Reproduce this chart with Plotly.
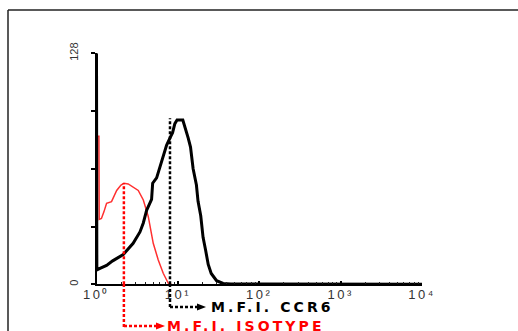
import plotly.graph_objects as go

W, H = 518, 331

# CCR6 histogram (black): fluorescence intensity vs. cell count
ccr6_x = [1.00, 1.01, 1.12, 1.33, 1.58, 2.13, 2.82, 3.42, 3.76, 4.13, 4.75, 4.90, 5.48, 6.01,
          6.61, 7.26, 7.98, 8.61, 9.18, 9.77, 11.5, 12.3, 13.4, 14.3, 15.4, 16.9, 17.7, 19.1,
          20.4, 21.9, 23.6, 25.7, 29.9, 36.0, 44.7, 100, 10000]
ccr6_y = [128, 8, 9, 10.5, 13, 16.5, 22.7, 29, 34, 41, 47, 56, 59, 65,
          70, 77, 81, 84, 89, 91, 91, 87, 81, 76, 64, 55, 46, 38,
          26, 19, 11, 6, 2, 0.5, 0.2, 0.1, 0]

# Isotype histogram (red)
iso_x = [1.00, 1.07, 1.08, 1.15, 1.23, 1.33, 1.53, 1.77, 2.00, 2.17, 2.45, 2.82, 3.26, 3.76,
         4.33, 4.98, 5.74, 6.61, 7.62, 8.32]
iso_y = [82, 82, 36, 36.5, 40, 44.9, 45.8, 52, 55, 56, 55.6, 54, 52, 46.7,
         37.5, 22.7, 13.5, 6.1, 0.6, 0]

mfi_ccr6 = 8.0
mfi_iso = 2.17
mfi_ccr6_height = 92
mfi_iso_height = 56

x_tickvals = [1, 10, 100, 1000, 10000]
x_ticktext = ["10⁰", "10¹", "10²", "10³", "10⁴"]
x_minorvals = [k * 10 ** d for d in range(4) for k in range(2, 10)]
y_tickvals = [0, 32, 64, 96, 128]
y_ticktext = ["0", "", "", "", "128"]
label_ccr6 = "M.F.I. CCR6"
label_iso = "M.F.I. ISOTYPE"


def PX(x):
    return x / W


def PY(y):
    return 1 - y / H


fig = go.Figure()
fig.add_trace(go.Scatter(x=iso_x, y=iso_y, mode="lines",
                         line=dict(color="#ff3030", width=1.5), hoverinfo="skip"))
fig.add_trace(go.Scatter(x=ccr6_x, y=ccr6_y, mode="lines",
                         line=dict(color="black", width=3), hoverinfo="skip"))

shapes = []
# frame
shapes.append(dict(type="line", xref="paper", yref="paper", x0=PX(8), x1=1.0, y0=PY(10), y1=PY(10),
                   line=dict(color="#222", width=1.5)))
shapes.append(dict(type="line", xref="paper", yref="paper", x0=PX(8), x1=PX(8), y0=PY(10), y1=0,
                   line=dict(color="#222", width=1.5)))

dot = "3px,2px"
# CCR6 marker
shapes.append(dict(type="line", xref="x", yref="y", x0=mfi_ccr6, x1=mfi_ccr6, y0=0, y1=mfi_ccr6_height,
                   line=dict(color="black", width=2.5, dash=dot)))
shapes.append(dict(type="line", xref="x", yref="paper", x0=mfi_ccr6, x1=mfi_ccr6, y0=PY(284), y1=PY(308),
                   line=dict(color="black", width=2.5, dash=dot)))
shapes.append(dict(type="line", xref="paper", yref="paper", x0=PX(170), x1=PX(198), y0=PY(307), y1=PY(307),
                   line=dict(color="black", width=2.5, dash=dot)))
shapes.append(dict(type="path", xref="paper", yref="paper",
                   path=f"M {PX(197)},{PY(303.5)} L {PX(206)},{PY(307)} L {PX(197)},{PY(310.5)} Z",
                   fillcolor="black", line=dict(width=0)))
# Isotype marker
shapes.append(dict(type="line", xref="x", yref="y", x0=mfi_iso, x1=mfi_iso, y0=0, y1=mfi_iso_height,
                   line=dict(color="#ff0000", width=2.5, dash=dot)))
shapes.append(dict(type="line", xref="x", yref="paper", x0=mfi_iso, x1=mfi_iso, y0=PY(284), y1=PY(327),
                   line=dict(color="#ff0000", width=2.5, dash=dot)))
shapes.append(dict(type="line", xref="paper", yref="paper", x0=PX(124), x1=PX(157), y0=PY(326), y1=PY(326),
                   line=dict(color="#ff0000", width=2.5, dash=dot)))
shapes.append(dict(type="path", xref="paper", yref="paper",
                   path=f"M {PX(156)},{PY(322.5)} L {PX(165)},{PY(326)} L {PX(156)},{PY(329.5)} Z",
                   fillcolor="#ff0000", line=dict(width=0)))

annotations = [
    dict(xref="paper", yref="paper", x=PX(209), y=PY(307), xanchor="left", yanchor="middle",
         text=f"<span style='letter-spacing:3.1px'>{label_ccr6}</span>", showarrow=False,
         font=dict(family="DejaVu Sans", size=14, color="black", weight="bold")),
    dict(xref="paper", yref="paper", x=PX(165), y=PY(326), xanchor="left", yanchor="middle",
         text=f"<span style='letter-spacing:3.1px'>{label_iso}</span>", showarrow=False,
         font=dict(family="DejaVu Sans", size=14, color="#ff0000", weight="bold")),
]

fig.update_layout(
    width=W, height=H,
    margin=dict(l=0, r=0, t=0, b=0, pad=0, autoexpand=False),
    paper_bgcolor="white", plot_bgcolor="white",
    showlegend=False,
    shapes=shapes,
    annotations=annotations,
    xaxis=dict(
        type="log", range=[0, 4], domain=[PX(96.5), PX(422)],
        automargin=False,
        showgrid=False, zeroline=False,
        showline=True, linecolor="black", linewidth=2,
        tickmode="array", tickvals=x_tickvals,
        ticktext=[f"<span style='letter-spacing:2.5px'>{t}</span>" for t in x_ticktext],
        ticks="inside", ticklen=3, tickwidth=1.5, tickcolor="black",
        tickfont=dict(family="Liberation Sans", size=13, color="#333"),
        ticklabelstandoff=-3,
        minor=dict(tickmode="array", tickvals=x_minorvals, ticks="inside", ticklen=2,
                   tickwidth=1, tickcolor="#222", showgrid=False),
        fixedrange=True,
    ),
    yaxis=dict(
        range=[0, 128], domain=[PY(284.3), PY(53.3)],
        automargin=False,
        showgrid=False, zeroline=False,
        showline=True, linecolor="black", linewidth=2,
        tickmode="array", tickvals=y_tickvals, ticktext=y_ticktext,
        ticks="outside", ticklen=4, tickwidth=1.5, tickcolor="black",
        tickangle=-90,
        tickfont=dict(family="Liberation Sans", size=11, color="#333"),
        ticklabelstandoff=8,
        fixedrange=True,
    ),
)

fig.write_html("out.html")
